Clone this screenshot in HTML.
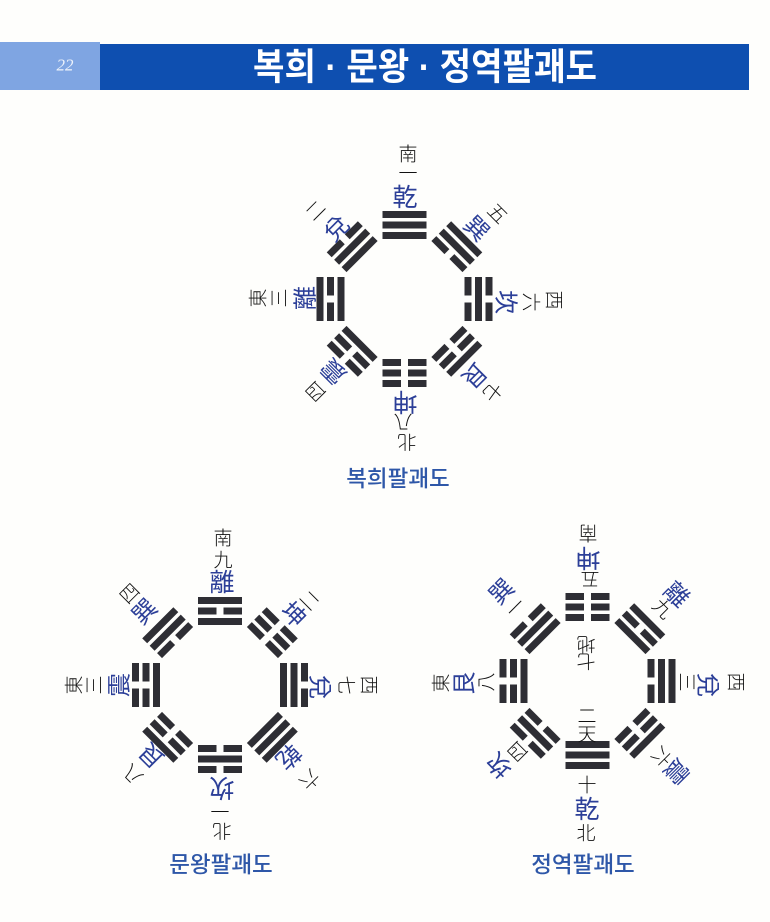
<!DOCTYPE html>
<html lang="ko"><head><meta charset="utf-8"><title>복희 문왕 정역팔괘도</title>
<style>
html,body{margin:0;padding:0;background:#fefefc}
svg{display:block}
text{text-anchor:middle;dominant-baseline:central}
.k{font:300 19px "Noto Sans CJK TC","WenQuanYi Zen Hei",sans-serif;fill:#111}
.b{font:400 24px "Noto Sans CJK TC","WenQuanYi Zen Hei",sans-serif;fill:#2c3f98}
.B{font-size:25px}
.t{font:500 22.5px "Liberation Sans","Noto Sans CJK KR",sans-serif;fill:#2e57a8}
</style></head><body>
<svg width="770" height="922" viewBox="0 0 770 922" xmlns="http://www.w3.org/2000/svg">
<defs>
<g id="s"><rect x="-22" y="-3.5" width="44" height="7"/></g>
<g id="h"><rect x="-22" y="-3.5" width="18.5" height="7"/><rect x="3.5" y="-3.5" width="18.5" height="7"/></g>
<g id="t111"><use href="#s" y="-84.5"/><use href="#s" y="-74"/><use href="#s" y="-63.5"/></g>
<g id="t110"><use href="#s" y="-84.5"/><use href="#s" y="-74"/><use href="#h" y="-63.5"/></g>
<g id="t101"><use href="#s" y="-84.5"/><use href="#h" y="-74"/><use href="#s" y="-63.5"/></g>
<g id="t100"><use href="#s" y="-84.5"/><use href="#h" y="-74"/><use href="#h" y="-63.5"/></g>
<g id="t011"><use href="#h" y="-84.5"/><use href="#s" y="-74"/><use href="#s" y="-63.5"/></g>
<g id="t010"><use href="#h" y="-84.5"/><use href="#s" y="-74"/><use href="#h" y="-63.5"/></g>
<g id="t001"><use href="#h" y="-84.5"/><use href="#h" y="-74"/><use href="#s" y="-63.5"/></g>
<g id="t000"><use href="#h" y="-84.5"/><use href="#h" y="-74"/><use href="#h" y="-63.5"/></g>
</defs>
<rect width="770" height="922" fill="#fefefc"/>
<rect x="0" y="42" width="100" height="48" fill="#7fa5e2"/>
<rect x="100" y="44" width="649" height="46" fill="#0e4fb0"/>
<text x="65" y="65" style="font-family:'Liberation Serif',serif;font-style:italic;font-size:17px;fill:#eef3fb">22</text>
<text x="425" y="67" textLength="344" lengthAdjust="spacingAndGlyphs" style="font-family:'Liberation Sans','Noto Sans CJK KR',sans-serif;font-weight:700;font-size:37px;fill:#fff">복희 · 문왕 · 정역팔괘도</text>

<g fill="#2e2e34" transform="translate(404.5,299)">
<use href="#t111"/><use href="#t110" transform="rotate(45)"/><use href="#t010" transform="rotate(90)"/><use href="#t100" transform="rotate(135)"/><use href="#t000" transform="rotate(180)"/><use href="#t001" transform="rotate(225)"/><use href="#t101" transform="rotate(270)"/><use href="#t011" transform="rotate(315)"/>
</g>
<g fill="#2e2e34" transform="translate(220,685)">
<use href="#t101"/><use href="#t000" transform="rotate(45)"/><use href="#t011" transform="rotate(90)"/><use href="#t111" transform="rotate(135)"/><use href="#t010" transform="rotate(180)"/><use href="#t100" transform="rotate(225)"/><use href="#t001" transform="rotate(270)"/><use href="#t110" transform="rotate(315)"/>
</g>
<g fill="#2e2e34" transform="translate(587.5,681)">
<use href="#t000"/><use href="#t101" transform="rotate(45)"/><use href="#t110" transform="rotate(90)"/><use href="#t100" transform="rotate(135)"/><use href="#t111" transform="rotate(180)"/><use href="#t010" transform="rotate(225)"/><use href="#t001" transform="rotate(270)"/><use href="#t011" transform="rotate(315)"/>
</g>

<!-- diagram 1 -->
<text class="k" transform="translate(408,153)">南</text>
<text class="k" transform="translate(408,172)">一</text>
<text class="b B" transform="translate(405,196)">乾</text>
<text class="b" transform="translate(478,227) rotate(45)">巽</text>
<text class="k" transform="translate(498,213) rotate(45)">五</text>
<text class="b" transform="translate(508,302) rotate(90)">坎</text>
<text class="k" transform="translate(532,302) rotate(90)">六</text>
<text class="k" transform="translate(555,300) rotate(90)">西</text>
<text class="b" transform="translate(476,377) rotate(135)">艮</text>
<text class="k" transform="translate(493,392) rotate(135)">七</text>
<text class="b B" transform="translate(405,403) rotate(180)">坤</text>
<text class="k" transform="translate(403,423) rotate(180)">八</text>
<text class="k" transform="translate(407,443) rotate(180)">北</text>
<text class="b" transform="translate(332,373) rotate(225)">震</text>
<text class="k" transform="translate(315,392) rotate(225)">四</text>
<text class="b" transform="translate(303,298) rotate(270)">離</text>
<text class="k" transform="translate(278,298) rotate(270)">三</text>
<text class="k" transform="translate(257,298) rotate(270)">東</text>
<text class="b" transform="translate(335,227) rotate(315)">兌</text>
<text class="k" transform="translate(315,210) rotate(315)">二</text>
<text class="t" x="398" y="479">복희팔괘도</text>

<!-- diagram 2 -->
<text class="k" transform="translate(223,537)">南</text>
<text class="k" transform="translate(223,559)">九</text>
<text class="b B" transform="translate(222,581)">離</text>
<text class="b" transform="translate(295,613) rotate(45)">坤</text>
<text class="k" transform="translate(310,600) rotate(45)">二</text>
<text class="b" transform="translate(322,687) rotate(90)">兌</text>
<text class="k" transform="translate(347,685) rotate(90)">七</text>
<text class="k" transform="translate(370,685) rotate(90)">西</text>
<text class="b" transform="translate(290,758) rotate(135)">乾</text>
<text class="k" transform="translate(310,780) rotate(135)">六</text>
<text class="b B" transform="translate(222,789) rotate(180)">坎</text>
<text class="k" transform="translate(220,812) rotate(180)">一</text>
<text class="k" transform="translate(222,832) rotate(180)">北</text>
<text class="b" transform="translate(150,757) rotate(225)">艮</text>
<text class="k" transform="translate(132,775) rotate(225)">八</text>
<text class="b" transform="translate(117,685) rotate(270)">震</text>
<text class="k" transform="translate(93,685) rotate(270)">三</text>
<text class="k" transform="translate(73,685) rotate(270)">東</text>
<text class="b" transform="translate(143,610) rotate(315)">巽</text>
<text class="k" transform="translate(129,593) rotate(315)">四</text>
<text class="t" x="221" y="865">문왕팔괘도</text>

<!-- diagram 3 -->
<text class="k" transform="translate(588,534) rotate(180)">南</text>
<text class="b B" transform="translate(588,559) rotate(180)">坤</text>
<text class="k" transform="translate(590,580) rotate(180)">五</text>
<text class="b" transform="translate(678,593) rotate(45)">離</text>
<text class="k" transform="translate(663,608) rotate(45)">九</text>
<text class="k" transform="translate(688,682) rotate(90)">三</text>
<text class="b" transform="translate(710,685) rotate(90)">兌</text>
<text class="k" transform="translate(737,682) rotate(90)">西</text>
<text class="b" transform="translate(678,773) rotate(135)">震</text>
<text class="k" transform="translate(662,757) rotate(135)">六</text>
<text class="k" transform="translate(587,784)">十</text>
<text class="b B" transform="translate(587,808)">乾</text>
<text class="k" transform="translate(586,832)">北</text>
<text class="k" transform="translate(517,752) rotate(225)">四</text>
<text class="b" transform="translate(498,767) rotate(225)">坎</text>
<text class="k" transform="translate(485,682) rotate(270)">八</text>
<text class="b" transform="translate(462,683) rotate(270)">艮</text>
<text class="k" transform="translate(440,683) rotate(270)">東</text>
<text class="b" transform="translate(500,590) rotate(315)">巽</text>
<text class="k" transform="translate(515,607) rotate(315)">一</text>
<text class="k" transform="translate(586,645) rotate(180)">地</text>
<text class="k" transform="translate(586,662) rotate(180)">七</text>
<text class="k" transform="translate(587,715)">二</text>
<text class="k" transform="translate(587,733)">天</text>
<text class="t" x="583" y="865">정역팔괘도</text>
</svg>
</body></html>
